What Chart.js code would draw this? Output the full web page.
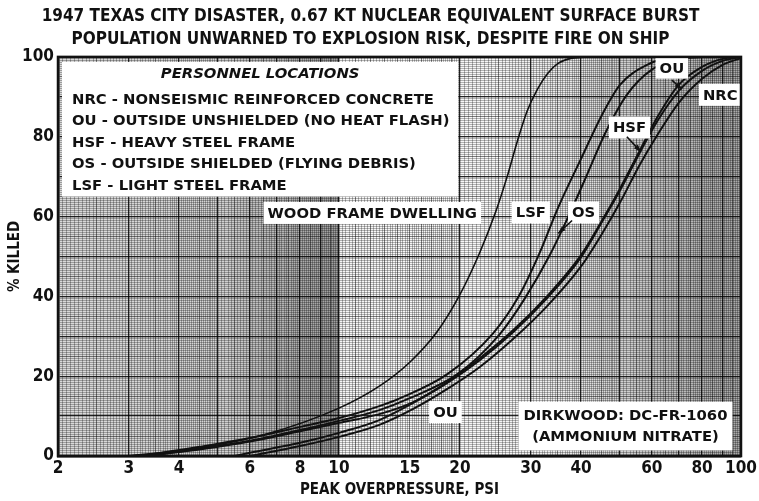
<!DOCTYPE html>
<html>
<head>
<meta charset="utf-8">
<script src="https://cdn.jsdelivr.net/npm/chart.js@4/dist/chart.umd.min.js"></script>
<style>
  html, body { margin: 0; padding: 0; background: #fff; }
  #wrap { width: 759px; height: 501px; }
</style>
</head>
<body>
<div id="wrap"><canvas id="chart"></canvas></div>
<script>
const titleLines = [
  '1947 TEXAS CITY DISASTER, 0.67 KT NUCLEAR EQUIVALENT SURFACE BURST',
  'POPULATION UNWARNED TO EXPLOSION RISK, DESPITE FIRE ON SHIP',
];
const xTitle = 'PEAK OVERPRESSURE, PSI';
const yTitle = '% KILLED';
const xLabelValues = [2, 3, 4, 6, 8, 10, 15, 20, 30, 40, 60, 80, 100];
const yLabelValues = [0, 20, 40, 60, 80, 100];

const legendTitle = 'PERSONNEL LOCATIONS';
const legendLines = [
  'NRC - NONSEISMIC REINFORCED CONCRETE',
  'OU - OUTSIDE UNSHIELDED (NO HEAT FLASH)',
  'HSF - HEAVY STEEL FRAME',
  'OS - OUTSIDE SHIELDED (FLYING DEBRIS)',
  'LSF - LIGHT STEEL FRAME',
];
const sourceLines = ['DIRKWOOD: DC-FR-1060', '(AMMONIUM NITRATE)'];

// curves: peak overpressure (psi) vs % killed
const woodPsi = [3, 4.5, 6.6, 10, 12.6, 15, 17.5, 20, 22.4, 24.5, 26.2, 27.8, 29.4, 31.2, 33, 35, 38, 42];
const woodKilled = [0, 2, 5.5, 12, 17.5, 23.5, 31, 40.5, 51, 61, 70, 79, 86.5, 92, 95.8, 98.3, 99.7, 100];

const lsfPsi = [3.2, 4.5, 6, 8, 10, 12.6, 14.2, 18.6, 24.2, 28, 31.6, 35, 39.8, 45.4, 50, 58.4, 66, 75];
const lsfKilled = [0, 2.3, 4.5, 7.3, 9.5, 12.5, 14.5, 20.5, 30.8, 40, 51, 62, 74, 86, 93, 98, 99.7, 100];

const osPsi = [3.4, 4.5, 6, 8, 10, 12.6, 15, 19.7, 25.1, 29, 33.5, 37, 41, 46, 52, 60, 70, 80];
const osKilled = [0, 1.8, 3.8, 6.5, 8.8, 11.5, 14.5, 20.5, 30.5, 39.5, 50.5, 59.5, 69.5, 81, 90.5, 96.8, 99.4, 100];

const hsfPsi = [5.5, 6, 8, 10, 12.6, 15.3, 18.6, 22.4, 27.1, 32.9, 39.8, 45, 50, 56, 62, 70, 80, 90, 100];
const hsfKilled = [0, 0.8, 3.3, 5.8, 9, 13.3, 18.3, 24, 31, 39.5, 49.5, 58.5, 66.5, 76, 84, 91.5, 96.5, 99, 100];

const nrcPsi = [6, 8, 10, 12.6, 15.3, 18.6, 22.4, 27.1, 32.9, 40, 45, 50, 56, 62, 70, 80, 90, 100];
const nrcKilled = [0, 2.5, 4.8, 7.8, 11.8, 16.8, 22.3, 29.3, 37.5, 47.5, 55.5, 63.5, 73, 80.5, 88.5, 94.5, 98, 99.7];

const ouPsi = [3, 4, 5, 6, 8, 10, 12.6, 15.3, 18.6, 22.4, 27.1, 32.9, 39.8, 45, 50, 56, 62, 70, 80, 90, 100];
const ouKilled = [0, 1, 2.3, 3.6, 6.2, 8.3, 10.5, 13.5, 18.5, 24.5, 31.5, 40, 50, 58.8, 67, 76.5, 85, 93, 97.5, 99.5, 100];

function range(a, b, step) {
  const out = [];
  for (let v = a; v <= b + 1e-9; v += step) out.push(+v.toFixed(3));
  return out;
}

// log graph paper rulings
const xGrid = [
  ...range(2, 5, 0.05), ...range(5.1, 10, 0.1), ...range(10.2, 20, 0.2),
  ...range(20.5, 50, 0.5), ...range(51, 100, 1),
];
const yGrid = range(0, 100, 0.5);

function isInt(v) { return Math.abs(v - Math.round(v)) < 1e-6; }

function xWeight(v) {
  if (v <= 10) {
    if (isInt(v)) return 2;
    if (isInt(v * 2)) return 1;
    return 0;
  }
  if (isInt(v / 10)) return 2;
  if (isInt(v / 5) || (v < 20 && isInt(v))) return 1;
  return 0;
}

function yWeight(v) {
  if (isInt(v / 10)) return 2;
  if (isInt(v / 5)) return 1;
  return 0;
}

const gridColors = ['rgba(0,0,0,0.28)', 'rgba(0,0,0,0.5)', 'rgba(0,0,0,0.85)'];
const gridWidths = [1, 1, 1.3];

function toPoints(xs, ys) {
  return xs.map((x, i) => ({ x, y: ys[i] }));
}

function curve(label, xs, ys, width) {
  return {
    label,
    data: toPoints(xs, ys),
    borderColor: '#111',
    borderWidth: width,
    pointRadius: 0,
    fill: false,
    cubicInterpolationMode: 'monotone',
  };
}

const narrow = '"DejaVu Sans Condensed", "Liberation Sans Narrow", "Liberation Sans", sans-serif';
const labelFont = 'bold 14.8px "DejaVu Sans"';

function drawBox(ctx, text, cx, cy) {
  ctx.font = labelFont;
  const w = ctx.measureText(text).width;
  ctx.fillStyle = '#fff';
  ctx.fillRect(cx - w / 2 - 4, cy - 11, w + 8, 22);
  ctx.fillStyle = '#111';
  ctx.textAlign = 'center';
  ctx.textBaseline = 'middle';
  ctx.fillText(text, cx, cy + 1);
}

function drawArrow(ctx, x1, y1, x2, y2) {
  ctx.strokeStyle = '#111';
  ctx.fillStyle = '#111';
  ctx.lineWidth = 1.6;
  ctx.beginPath();
  ctx.moveTo(x1, y1);
  ctx.lineTo(x2, y2);
  ctx.stroke();
  const ang = Math.atan2(y2 - y1, x2 - x1);
  ctx.beginPath();
  ctx.moveTo(x2, y2);
  ctx.lineTo(x2 - 8 * Math.cos(ang - 0.35), y2 - 8 * Math.sin(ang - 0.35));
  ctx.lineTo(x2 - 8 * Math.cos(ang + 0.35), y2 - 8 * Math.sin(ang + 0.35));
  ctx.closePath();
  ctx.fill();
}

const shadeStops = [[2, 0.15], [5, 0.17], [6, 0.24], [9.8, 0.38], [10, 0.38], [10.05, 0.03], [25, 0.03], [40, 0.1], [60, 0.24], [100, 0.34]];

const paperPlugin = {
  id: 'paper',
  beforeDraw(chart) {
    const { ctx, chartArea: a, scales: { x } } = chart;
    ctx.save();
    ctx.fillStyle = '#fff';
    ctx.fillRect(0, 0, chart.width, chart.height);
    const g = ctx.createLinearGradient(a.left, 0, a.right, 0);
    shadeStops.forEach(([psi, alpha]) => {
      const t = Math.min(1, Math.max(0, (x.getPixelForValue(psi) - a.left) / a.width));
      g.addColorStop(t, `rgba(0,0,0,${alpha})`);
    });
    ctx.fillStyle = g;
    ctx.fillRect(a.left, a.top, a.width, a.height);
    ctx.restore();
  },
  afterDatasetsDraw(chart) {
    const { ctx, chartArea: a, scales: { x, y } } = chart;
    const px = v => x.getPixelForValue(v);
    const py = v => y.getPixelForValue(v);
    ctx.save();

    // legend panel
    const lx = a.left + 4, ly = a.top + 5;
    const lr = px(19.8), lb = py(65);
    ctx.fillStyle = '#fff';
    ctx.fillRect(lx, ly, lr - lx, lb - ly);
    ctx.fillStyle = '#111';
    ctx.textBaseline = 'middle';
    ctx.textAlign = 'center';
    ctx.font = 'italic bold 14.8px "DejaVu Sans"';
    ctx.fillText(legendTitle, (lx + lr) / 2, ly + 12);
    ctx.textAlign = 'left';
    ctx.font = labelFont;
    legendLines.forEach((t, i) => ctx.fillText(t, lx + 10, ly + 38 + i * 21.5));

    // curve labels
    drawBox(ctx, 'WOOD FRAME DWELLING', px(12.1), py(60.9));
    drawBox(ctx, 'LSF', px(30), py(61));
    drawBox(ctx, 'OS', px(40.6), py(61));
    drawBox(ctx, 'HSF', px(52.8), py(82.3));
    drawBox(ctx, 'OU', px(67.3), py(97.3));
    drawBox(ctx, 'NRC', px(88.8), py(90.5));
    drawBox(ctx, 'OU', px(18.4), py(11));
    drawArrow(ctx, px(38), py(59), px(35.1), py(55.8));
    drawArrow(ctx, px(52), py(80), px(56.4), py(76.2));
    drawArrow(ctx, px(67.3), py(94.2), px(71.3), py(91.9));

    // source note
    ctx.font = labelFont;
    const sw = Math.max(...sourceLines.map(t => ctx.measureText(t).width));
    const sx = px(51.6);
    ctx.fillStyle = '#fff';
    ctx.fillRect(sx - sw / 2 - 5, py(13.6), sw + 10, py(1.4) - py(13.6));
    ctx.fillStyle = '#111';
    ctx.textAlign = 'center';
    ctx.fillText(sourceLines[0], sx, py(10.1));
    ctx.fillText(sourceLines[1], sx, py(4.8));

    // frame
    ctx.strokeStyle = '#111';
    ctx.lineWidth = 2.5;
    ctx.strokeRect(a.left, a.top, a.width, a.height);
    ctx.restore();
  },
};

const tickFont = { family: narrow, size: 17, weight: 'bold' };

new Chart(document.getElementById('chart'), {
  type: 'line',
  data: {
    datasets: [
      curve('WOOD FRAME DWELLING', woodPsi, woodKilled, 1.6),
      curve('LSF', lsfPsi, lsfKilled, 2),
      curve('OS', osPsi, osKilled, 2),
      curve('HSF', hsfPsi, hsfKilled, 2),
      curve('NRC', nrcPsi, nrcKilled, 2),
      curve('OU', ouPsi, ouKilled, 2),
    ],
  },
  options: {
    responsive: true,
    maintainAspectRatio: false,
    animation: false,
    layout: { padding: { left: 0, right: 18, top: 0, bottom: 0 } },
    plugins: {
      legend: { display: false },
      tooltip: { enabled: false },
      title: {
        display: true,
        text: titleLines,
        color: '#111',
        font: { family: narrow, size: 17, weight: 'bold', lineHeight: 1.35 },
        padding: { top: 5, bottom: 6 },
      },
    },
    scales: {
      x: {
        type: 'logarithmic',
        min: 2,
        max: 100,
        afterBuildTicks: scale => { scale.ticks = xGrid.map(value => ({ value })); },
        afterFit: scale => { scale.height = 45; },
        ticks: {
          autoSkip: false,
          maxRotation: 0,
          padding: 2,
          color: '#111',
          font: tickFont,
          callback: value => (xLabelValues.includes(value) ? String(value) : ''),
        },
        grid: {
          drawTicks: false,
          color: c => gridColors[xWeight(c.tick.value)],
          lineWidth: c => gridWidths[xWeight(c.tick.value)],
        },
        border: { color: '#111', width: 2.5 },
        title: {
          display: true,
          text: xTitle,
          color: '#111',
          font: { family: narrow, size: 15, weight: 'bold' },
          padding: { top: 0, bottom: 2 },
        },
      },
      y: {
        type: 'linear',
        min: 0,
        max: 100,
        afterBuildTicks: scale => { scale.ticks = yGrid.map(value => ({ value })); },
        afterFit: scale => { scale.width = 58; },
        ticks: {
          autoSkip: false,
          padding: 4,
          color: '#111',
          font: tickFont,
          callback: value => (yLabelValues.includes(value) ? String(value) : ''),
        },
        grid: {
          drawTicks: false,
          color: c => gridColors[yWeight(c.tick.value)],
          lineWidth: c => gridWidths[yWeight(c.tick.value)],
        },
        border: { color: '#111', width: 2.5 },
        title: {
          display: true,
          text: yTitle,
          color: '#111',
          font: { family: narrow, size: 15, weight: 'bold' },
          padding: { top: 6, bottom: 4 },
        },
      },
    },
  },
  plugins: [paperPlugin],
});
</script>
</body>
</html>
